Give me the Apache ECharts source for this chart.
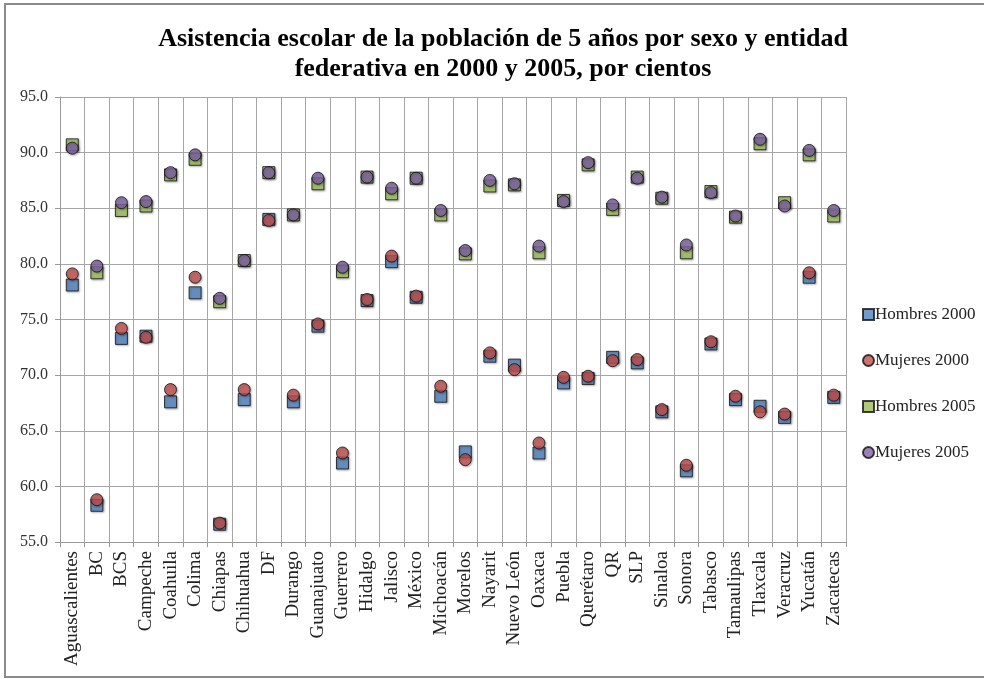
<!DOCTYPE html>
<html>
<head>
<meta charset="utf-8">
<script src="https://cdn.jsdelivr.net/npm/echarts@6/dist/echarts.min.js"></script>
<style>html,body{margin:0;padding:0;background:#fff;}#c{width:984px;height:679px;}</style>
</head>
<body>
<div id="c"></div>
<script>
const categories = ["Aguascalientes","BC","BCS","Campeche","Coahuila","Colima","Chiapas","Chihuahua","DF","Durango","Guanajuato","Guerrero","Hidalgo","Jalisco","México","Michoacán","Morelos","Nayarit","Nuevo León","Oaxaca","Puebla","Querétaro","QR","SLP","Sinaloa","Sonora","Tabasco","Tamaulipas","Tlaxcala","Veracruz","Yucatán","Zacatecas"];
const hombres2000 = [78.1,58.3,73.3,73.5,67.6,77.4,56.6,67.8,84.0,67.6,74.4,62.1,76.7,80.2,77.0,68.1,63.1,71.7,70.9,63.0,69.3,69.7,71.6,71.1,66.7,61.4,72.8,67.8,67.2,66.2,78.8,68.0];
const mujeres2000 = [79.1,58.8,74.2,73.4,68.7,78.8,56.7,68.7,83.9,68.2,74.6,63.0,76.8,80.7,77.1,69.0,62.4,72.0,70.5,63.9,69.8,69.9,71.3,71.4,66.9,61.9,73.0,68.1,66.7,66.5,79.2,68.2];
const hombres2005 = [90.7,79.2,84.8,85.2,88.0,89.4,76.6,80.3,88.2,84.4,87.2,79.3,87.8,86.3,87.7,84.4,80.9,87.0,87.1,81.0,85.7,88.9,84.9,87.8,85.9,81.0,86.5,84.2,90.8,85.5,89.8,84.3];
const mujeres2005 = [90.4,79.8,85.5,85.6,88.2,89.8,76.9,80.3,88.2,84.4,87.7,79.7,87.8,86.8,87.7,84.8,81.2,87.5,87.2,81.6,85.6,89.1,85.3,87.7,86.0,81.7,86.4,84.3,91.2,85.2,90.2,84.8];
const seriesNames = ["Hombres 2000","Mujeres 2000","Hombres 2005","Mujeres 2005"];
const yMin = 55, yMax = 95, yStep = 5;

const FONT = "'Liberation Serif','Times New Roman',serif";
const colors = ['#4F81BD','#C0504D','#9BBB59','#8064A2'];
const symbols = ['rect','circle','rect','circle'];
const datasets = [hombres2000, mujeres2000, hombres2005, mujeres2005];

const chart = echarts.init(document.getElementById('c'));
chart.setOption({
  animation: false,
  backgroundColor: '#fff',
  title: {
    text: 'Asistencia escolar de la población de 5 años por sexo y entidad\nfederativa en 2000 y 2005, por cientos',
    left: 498, top: 19, textAlign: 'center',
    textStyle: {fontFamily: FONT, fontSize: 26, fontWeight: 'bold', color: '#000', lineHeight: 30}
  },
  graphic: [{
    type: 'polyline', silent: true, z: -1,
    shape: {points: [[1000, 4], [5, 4], [5, 677], [1000, 677]]},
    style: {fill: 'none', stroke: '#8a8a8a', lineWidth: 2}
  }],
  legend: {
    orient: 'vertical', left: 857, top: 301,
    itemWidth: 11, itemHeight: 11, itemGap: 29,
    data: seriesNames.map((n, i) => ({name: n, icon: symbols[i] === 'rect' ? 'rect' : 'circle'})),
    textStyle: {fontFamily: FONT, fontSize: 17, color: '#222', padding: [0,0,0,-4]}
  },
  grid: {left: 60, top: 97, right: 138, bottom: 137, containLabel: false},
  xAxis: {
    type: 'category', data: categories, boundaryGap: true,
    axisLine: {lineStyle: {color: '#999', width: 1}},
    axisTick: {show: true, alignWithLabel: false, length: 5, lineStyle: {color: '#999'}},
    splitLine: {show: true, interval: 0, lineStyle: {color: '#a6a6a6', width: 1}},
    axisLabel: {interval: 0, rotate: 90, fontFamily: FONT, fontSize: 19, color: '#222', margin: 9}
  },
  yAxis: {
    type: 'value', min: yMin, max: yMax, interval: yStep,
    axisLine: {show: true, lineStyle: {color: '#999'}},
    axisTick: {show: true, length: 5, lineStyle: {color: '#999'}},
    splitLine: {show: true, lineStyle: {color: '#a6a6a6', width: 1}},
    axisLabel: {fontFamily: FONT, fontSize: 16, color: '#333', margin: 12, formatter: v => v.toFixed(1)}
  },
  series: seriesNames.map((n, i) => ({
    name: n, type: 'scatter', data: datasets[i],
    symbol: symbols[i], symbolSize: 12, z: 2 + i,
    itemStyle: {color: colors[i], borderColor: '#111', borderWidth: 1,
      shadowBlur: 2, shadowColor: 'rgba(0,0,0,0.35)', shadowOffsetX: 1, shadowOffsetY: 1}
  }))
});
</script>
</body>
</html>
